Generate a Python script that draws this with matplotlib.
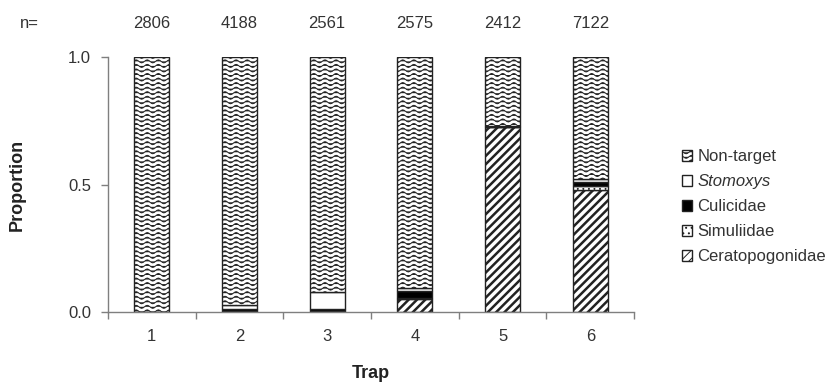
"""Proportions des captures par piège : barres empilées à 100 % avec motifs."""

import warnings

import matplotlib

matplotlib.use("Agg")
import matplotlib.hatch as mhatch
import matplotlib.pyplot as plt
import numpy as np
from matplotlib.path import Path
from matplotlib.transforms import blended_transform_factory

warnings.filterwarnings("ignore")

# données (proportion de chaque groupe, du bas vers le haut)
traps = ["1", "2", "3", "4", "5", "6"]
n_totals = ["2806", "4188", "2561", "2575", "2412", "7122"]
ceratopogonidae = [0.0, 0.0, 0.0, 0.05, 0.725, 0.48]
simuliidae = [0.0, 0.003, 0.003, 0.003, 0.0, 0.015]
culicidae = [0.0, 0.008, 0.01, 0.03, 0.005, 0.016]
stomoxys = [0.0, 0.015, 0.065, 0.01, 0.0, 0.01]
non_target = [1 - sum(v) for v in zip(ceratopogonidae, simuliidae, culicidae, stomoxys)]

series_names = ["Ceratopogonidae", "Simuliidae", "Culicidae", "Stomoxys", "Non-target"]
series_values = [ceratopogonidae, simuliidae, culicidae, stomoxys, non_target]

TEXT = "#333333"
AXIS = "#7f7f7f"


class WaveHatch(mhatch.HatchPatternBase):
    """Motif ondulé (« ~ ») pour imiter la trame d'Excel."""

    def __init__(self, hatch, density):
        self.num_rows = 22 * hatch.count("~")
        self.periods = 9
        self.per_row = 8 * self.periods + 1
        self.num_vertices = self.num_rows * self.per_row

    def set_vertices_and_codes(self, vertices, codes):
        amp = 0.015
        xs = np.linspace(0.0, 1.0, self.per_row)
        offs = amp * np.sin(2 * np.pi * self.periods * xs)
        for r in range(self.num_rows):
            y = (r + 0.5) / self.num_rows
            sl = slice(r * self.per_row, (r + 1) * self.per_row)
            vertices[sl, 0] = xs
            vertices[sl, 1] = y + offs
            codes[sl] = Path.LINETO
            codes[r * self.per_row] = Path.MOVETO


mhatch._hatch_types.append(WaveHatch)

styles = {
    "Ceratopogonidae": dict(facecolor="white", hatch="////", hlw=1.8),
    "Simuliidae": dict(facecolor="white", hatch="...", hlw=0.6),
    "Culicidae": dict(facecolor="black", hatch=None, hlw=1.0),
    "Stomoxys": dict(facecolor="white", hatch=None, hlw=1.0),
    "Non-target": dict(facecolor="white", hatch="~", hlw=0.7),
}

plt.rcParams["font.family"] = ["Liberation Sans", "DejaVu Sans"]
plt.rcParams["font.size"] = 11

fig = plt.figure(figsize=(8.3, 3.89), dpi=100)
ax = fig.add_axes([0.130, 0.198, 0.634, 0.655])

x = np.arange(1, len(traps) + 1)
bottom = np.zeros(len(traps))
handles = []
for name, vals in zip(series_names, series_values):
    st = styles[name]
    plt.rcParams["hatch.linewidth"] = st["hlw"]
    bars = ax.bar(
        x,
        vals,
        0.4,
        bottom=bottom,
        facecolor=st["facecolor"],
        edgecolor="#222222",
        linewidth=1.0,
        hatch=st["hatch"],
        label=name,
    )
    for p in bars.patches:
        if hasattr(p, "set_hatch_linewidth"):
            p.set_hatch_linewidth(st["hlw"])
    handles.append(bars)
    bottom += np.asarray(vals)
plt.rcParams["hatch.linewidth"] = 0.7

ax.set_xlim(0.5, len(traps) + 0.5)
ax.set_ylim(0, 1.0)
ax.set_yticks([0.0, 0.5, 1.0])
ax.set_yticklabels(["0.0", "0.5", "1.0"])
ax.set_xticks(x)
ax.set_xticklabels(traps)
ax.set_xticks(np.arange(0.5, len(traps) + 1), minor=True)
ax.tick_params(axis="x", which="major", length=0, pad=12, colors=TEXT, labelsize=12)
ax.tick_params(axis="x", which="minor", length=5, width=1, color=AXIS, direction="out")
ax.tick_params(axis="y", length=5, width=1, color=AXIS, pad=7, labelcolor=TEXT, labelsize=12)
for side in ("top", "right"):
    ax.spines[side].set_visible(False)
for side in ("left", "bottom"):
    ax.spines[side].set_color(AXIS)
    ax.spines[side].set_linewidth(1.0)

ax.set_ylabel("Proportion", fontweight="bold", fontsize=13, color="#222222")
ax.yaxis.set_label_coords(-0.156, 0.5)
ax.set_xlabel("Trap", fontweight="bold", fontsize=13, color="#222222")
ax.xaxis.set_label_coords(0.5, -0.21)

# effectifs au-dessus des barres
trans = blended_transform_factory(ax.transData, fig.transFigure)
for xi, n in zip(x, n_totals):
    ax.text(xi, 0.94, n, transform=trans, ha="center", va="center", color=TEXT, fontsize=12)
fig.text(0.036, 0.94, "n=", ha="center", va="center", color=TEXT, fontsize=12)

leg = fig.legend(
    handles[::-1],
    series_names[::-1],
    loc="center left",
    bbox_to_anchor=(0.822, 0.468),
    frameon=False,
    handlelength=0.6,
    handleheight=0.6,
    handletextpad=0.3,
    labelspacing=0.6,
    borderpad=0,
    borderaxespad=0,
    fontsize=12,
)
for t in leg.get_texts():
    t.set_color(TEXT)
leg.get_texts()[1].set_style("italic")

fig.savefig("out.png", dpi=100)
